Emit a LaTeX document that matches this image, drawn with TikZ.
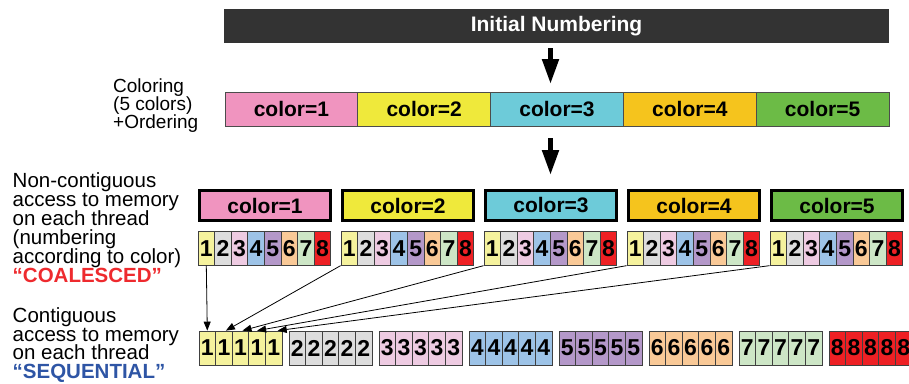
\documentclass[tikz,border=0pt]{standalone}
\usepackage{fontspec}
\setmainfont{Liberation Sans}
\usetikzlibrary{arrows.meta,calc}
\newcommand\mytightls{\lineskiplimit=-30pt\relax\lineskip=0pt\relax}
\definecolor{dark}{HTML}{333333}
\definecolor{cA}{HTML}{F094BF}
\definecolor{cB}{HTML}{EFE93B}
\definecolor{cC}{HTML}{6DCBD9}
\definecolor{cD}{HTML}{F5C41D}
\definecolor{cE}{HTML}{6CBB46}
\definecolor{n1}{HTML}{F5F29D}
\definecolor{n2}{HTML}{DDDDDD}
\definecolor{n3}{HTML}{EECBE2}
\definecolor{n4}{HTML}{9DC3E7}
\definecolor{n5}{HTML}{B498C9}
\definecolor{n6}{HTML}{F9C997}
\definecolor{n7}{HTML}{CDE6C6}
\definecolor{n8}{HTML}{EE2024}
\definecolor{cred}{HTML}{EE2A2E}
\definecolor{cblue}{HTML}{2E55A5}
\tikzset{
  barcell/.style={draw=black!70, line width=0.8pt, minimum width=132.8pt, minimum height=34pt, inner sep=0pt,
    font=\bfseries\fontsize{21}{21}\selectfont},
  colbox/.style={draw=black, line width=3pt, minimum width=131pt, minimum height=30.5pt, inner sep=0pt,
    font=\bfseries\fontsize{21}{21}\selectfont},
  numcell/.style={draw=black!75, line width=0.8pt, minimum width=16.6pt, minimum height=33.5pt, inner sep=0pt,
    font=\bfseries\fontsize{23}{23}\selectfont},
  lbl/.style={anchor=north west, inner sep=0pt, align=left},
  bigarrow/.style={line width=5pt, -{Triangle[length=25pt,width=16pt]}},
  thinarrow/.style={line width=0.8pt, -{Triangle[length=9pt,width=7pt]}},
}
\begin{document}
\begin{tikzpicture}[x=1pt,y=-1pt]
\useasboundingbox (0,0) rectangle (909,383);
% top bar
\node[fill=dark, minimum width=665pt, minimum height=33.4pt, inner sep=0pt, text=white,
  font=\bfseries\fontsize{21}{21}\selectfont] (init) at (556.5,26) {Initial Numbering};
% colouring bar
\foreach \i/\c in {1/cA,2/cB,3/cC,4/cD,5/cE}
  \node[barcell, fill=\c] (c\i) at ({225+132.8*(\i-0.5)},109) {color=\i};
% row of colour boxes
\foreach \i/\c in {1/cA,2/cB,3/cC,4/cD,5/cE}
  \node[colbox, fill=\c] (k\i) at ({265+143*(\i-1)},205.5) {color=\i};
% numbered groups
\foreach \g in {1,...,5}
  \foreach \n/\c in {1/n1,2/n2,3/n3,4/n4,5/n5,6/n6,7/n7,8/n8}
    \node[numcell, fill=\c] (g\g-\n) at ({198+143*(\g-1)+16.6*(\n-0.5)},248.5) {\n};
% sequential row
\foreach \n/\c in {1/n1,2/n2,3/n3,4/n4,5/n5,6/n6,7/n7,8/n8}
  \foreach \j in {1,...,5}
    \node[numcell, minimum height=34pt, fill=\c]
      (s\n-\j) at ({199+90*(\n-1)+16.6*(\j-0.5)},348) {\n};
% big arrows
\coordinate (a1s) at (550.5,48);
\coordinate (a1e) at (550.5,84);
\coordinate (a2s) at (550.5,138);
\coordinate (a2e) at (550.5,175);
\draw[bigarrow] (a1s) -- (a1e);
\draw[bigarrow] (a2s) -- (a2e);
% thin arrows
\draw[thinarrow] (g1-1.south) -- (s1-1.north);
\draw[thinarrow] (g2-1.south west) -- ([xshift=2pt]s1-2.north);
\draw[thinarrow] (g3-1.south west) -- ([xshift=2pt]s1-3.north);
\draw[thinarrow] (g4-1.south west) -- (s1-4.north);
\draw[thinarrow] (g5-1.south west) -- ([xshift=4pt]s1-5.north);
% labels
\node[lbl, font={\fontsize{19}{18}\selectfont\mytightls}] (lab1) at (113,79)
  {Coloring\\(5 colors)\\+Ordering};
\node[lbl, font={\fontsize{20.5}{19}\selectfont\mytightls}] (lab2) at (12.5,172.3)
  {Non-contiguous\\access to memory\\on each thread\\(numbering\\according to color)\\{\bfseries\color{cred}“COALESCED”}};
\node[lbl, font={\fontsize{20.5}{18.5}\selectfont\mytightls}] (lab3) at (12.5,307.6)
  {Contiguous\\access to memory\\on each thread\\{\bfseries\color{cblue}“SEQUENTIAL”}};
\end{tikzpicture}
\end{document}
